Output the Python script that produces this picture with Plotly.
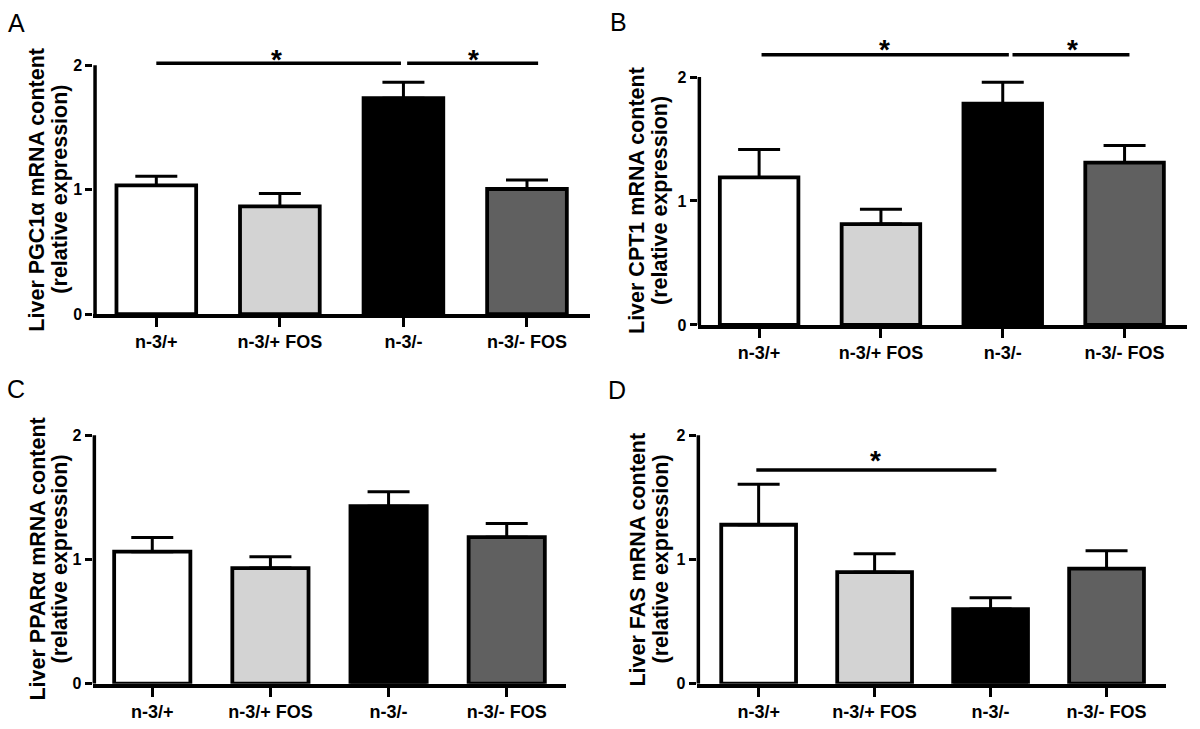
import plotly.graph_objects as go

categories = ["n-3/+", "n-3/+ FOS", "n-3/-", "n-3/- FOS"]
bar_colors = ["#ffffff", "#d3d3d3", "#000000", "#606060"]

pgc1a_mean = [1.034, 0.865, 1.735, 1.005]
pgc1a_sem = [0.074, 0.103, 0.127, 0.072]

cpt1_mean = [1.19, 0.814, 1.786, 1.31]
cpt1_sem = [0.225, 0.119, 0.171, 0.137]

ppara_mean = [1.063, 0.931, 1.429, 1.18]
ppara_sem = [0.114, 0.092, 0.117, 0.109]

fas_mean = [1.28, 0.898, 0.601, 0.927]
fas_sem = [0.326, 0.148, 0.091, 0.143]

y_ticks = [0, 1, 2]

# significance bars: (x_start, x_end, height) and stars (x, height)
sig_A_lines = [(0.0, 1.98, 2.016), (2.03, 3.09, 2.016)]
sig_A_stars = [(0.97, 2.10), (2.57, 2.10)]
sig_B_lines = [(0.02, 2.05, 2.18), (2.08, 3.04, 2.18)]
sig_B_stars = [(1.03, 2.28), (2.57, 2.28)]
sig_C_lines = []
sig_C_stars = []
sig_D_lines = [(-0.02, 2.05, 1.72)]
sig_D_stars = [(1.01, 1.85)]

panels = [
    dict(letter="A", mean=pgc1a_mean, sem=pgc1a_sem,
         title1="Liver PGC1α mRNA content", title2="(relative expression)",
         lines=sig_A_lines, stars=sig_A_stars,
         xdom=[93.3 / 1200, 590 / 1200], xrange=[-0.51, 3.51],
         ydom=[1 - 318 / 729, 1 - 28.2 / 729], yrange=[0, 2.3],
         tx=[37 / 1200, 60 / 1200], letter_pos=(16 / 1200, 1 - 23 / 729)),
    dict(letter="B", mean=cpt1_mean, sem=cpt1_sem,
         title1="Liver CPT1 mRNA content", title2="(relative expression)",
         lines=sig_B_lines, stars=sig_B_stars,
         xdom=[697.6 / 1200, 1186.7 / 1200], xrange=[-0.505, 3.51],
         ydom=[1 - 329 / 729, 1 - 27.8 / 729], yrange=[0, 2.4],
         tx=[637 / 1200, 660 / 1200], letter_pos=(618 / 1200, 1 - 22 / 729)),
    dict(letter="C", mean=ppara_mean, sem=ppara_sem,
         title1="Liver PPARα mRNA content", title2="(relative expression)",
         lines=sig_C_lines, stars=sig_C_stars,
         xdom=[92.6 / 1200, 565.8 / 1200], xrange=[-0.505, 3.5],
         ydom=[1 - 692.3 / 729, 1 - 403 / 729], yrange=[0, 2.3],
         tx=[38 / 1200, 60 / 1200], letter_pos=(16 / 1200, 1 - 394 / 729)),
    dict(letter="D", mean=fas_mean, sem=fas_sem,
         title1="Liver FAS mRNA content", title2="(relative expression)",
         lines=sig_D_lines, stars=sig_D_stars,
         xdom=[696.6 / 1200, 1165.7 / 1200], xrange=[-0.535, 3.51],
         ydom=[1 - 692.3 / 729, 1 - 403 / 729], yrange=[0, 2.3],
         tx=[638 / 1200, 661 / 1200], letter_pos=(617 / 1200, 1 - 395 / 729)),
]

FONT = "Liberation Sans, Arial, sans-serif"
LW = 3.5

fig = go.Figure()
shapes = []
annotations = []
layout_axes = {}

for i, p in enumerate(panels):
    n = "" if i == 0 else str(i + 1)
    xa, ya = "x" + n, "y" + n
    fig.add_trace(go.Bar(
        x=categories, y=p["mean"], xaxis=xa, yaxis=ya,
        marker=dict(color=bar_colors, line=dict(color="black", width=3.8)),
        width=0.645,
        error_y=dict(type="data", symmetric=False, array=p["sem"],
                     arrayminus=[0] * len(p["sem"]),
                     color="black", thickness=3, width=21),
        showlegend=False, hoverinfo="skip",
    ))
    layout_axes["xaxis" + n] = dict(
        domain=p["xdom"], anchor=ya, range=p["xrange"], type="category",
        showline=True, linecolor="black", linewidth=LW,
        ticks="outside", ticklen=9, tickwidth=3, tickcolor="black",
        tickfont=dict(family=FONT, size=18, color="black", weight="bold"),
        showgrid=False, zeroline=False, fixedrange=True,
    )
    layout_axes["yaxis" + n] = dict(
        domain=p["ydom"], anchor=xa, range=p["yrange"],
        showline=False, tickvals=y_ticks,
        ticks="outside", ticklen=7, tickwidth=3, tickcolor="black",
        tickfont=dict(family=FONT, size=16, color="black", weight="bold"),
        showgrid=False, zeroline=False, fixedrange=True,
    )
    # y spine from 0 to 2 (kept fully inside the plot area)
    shapes.append(dict(type="line", xref=xa + " domain", yref=ya,
                       xsizemode="pixel", xanchor=0, x0=LW / 2, x1=LW / 2,
                       y0=y_ticks[0], y1=y_ticks[-1],
                       line=dict(color="black", width=LW)))
    for (x0, x1, h) in p["lines"]:
        shapes.append(dict(type="line", xref=xa, yref=ya,
                           x0=x0, x1=x1, y0=h, y1=h,
                           line=dict(color="black", width=LW)))
    for (sx, sy) in p["stars"]:
        annotations.append(dict(text="*", xref=xa, yref=ya, x=sx, y=sy,
                                showarrow=False, xanchor="center", yanchor="middle",
                                yshift=-7,
                                font=dict(family=FONT, size=28, color="black", weight="bold")))
    mid = (y_ticks[0] + y_ticks[-1]) / 2
    for tx, t in zip(p["tx"], [p["title1"], p["title2"]]):
        annotations.append(dict(text=t, xref="paper", yref=ya, x=tx, y=mid,
                                textangle=-90, showarrow=False,
                                xanchor="center", yanchor="middle",
                                font=dict(family=FONT, size=21.5, color="black", weight="bold")))
    lx, ly = p["letter_pos"]
    annotations.append(dict(text=p["letter"], xref="paper", yref="paper", x=lx, y=ly,
                            showarrow=False, xanchor="center", yanchor="middle",
                            font=dict(family=FONT, size=25, color="black")))

fig.update_layout(
    width=1200, height=729,
    margin=dict(l=0, r=0, t=0, b=0),
    paper_bgcolor="white", plot_bgcolor="white",
    shapes=shapes, annotations=annotations,
    **layout_axes,
)

fig.write_html("out.html", config={"displayModeBar": False},
               post_script="document.body.style.margin='0px';document.body.style.overflow='hidden';")
